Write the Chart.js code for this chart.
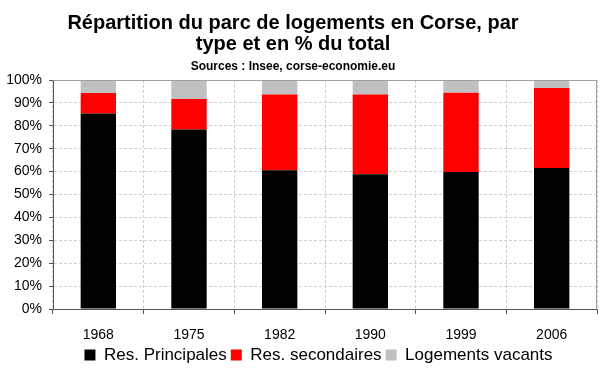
<!DOCTYPE html>
<html>
<head>
<meta charset="utf-8">
<script src="https://cdn.jsdelivr.net/npm/chart.js@4/dist/chart.umd.min.js"></script>
<style>
  html, body { margin: 0; padding: 0; background: #fff; }
  #c { display: block; }
</style>
</head>
<body>
<canvas id="c" width="600" height="372"></canvas>
<script>
const categories = ['1968', '1975', '1982', '1990', '1999', '2006'];
const resPrincipales = [85.4, 78.4, 60.6, 58.8, 59.8, 61.6];
const resSecondaires = [8.9, 13.3, 33.1, 34.9, 34.6, 34.9];
const logementsVacants = [5.7, 8.3, 6.3, 6.3, 5.6, 3.5];
const seriesNames = ['Res. Principales', 'Res. secondaires', 'Logements vacants'];
const yTickLabels = ['0%', '10%', '20%', '30%', '40%', '50%', '60%', '70%', '80%', '90%', '100%'];
const titleLines = ['Répartition du parc de logements en Corse, par', 'type et en % du total'];
const sourceText = 'Sources : Insee, corse-economie.eu';

const FONT = '"Liberation Sans", Arial, sans-serif';
Chart.defaults.font.family = FONT;
Chart.defaults.color = '#000';

const titlePlugin = {
  id: 'customTitle',
  afterDraw(chart) {
    const ctx = chart.ctx;
    ctx.save();
    ctx.fillStyle = '#000';
    ctx.textAlign = 'center';
    ctx.textBaseline = 'alphabetic';
    ctx.font = 'bold 20px ' + FONT;
    ctx.fillText(titleLines[0], 293, 28.5);
    ctx.fillText(titleLines[1], 293, 49.5);
    ctx.font = 'bold 12px ' + FONT;
    ctx.fillText(sourceText, 293, 69.5);
    ctx.restore();
  }
};

const legendShiftPlugin = {
  id: 'legendShift',
  afterLayout(chart) {
    if (chart.legend) { chart.legend.left = 40; }
  }
};

const framePlugin = {
  id: 'frame',
  afterDatasetsDraw(chart) {
    const a = chart.chartArea;
    const ctx = chart.ctx;
    ctx.save();
    ctx.strokeStyle = '#a0a0a0';
    ctx.lineWidth = 1;
    ctx.beginPath();
    ctx.moveTo(Math.round(a.left), Math.round(a.top) + 0.5);
    ctx.lineTo(Math.round(a.right) - 0.5, Math.round(a.top) + 0.5);
    ctx.lineTo(Math.round(a.right) - 0.5, Math.round(a.bottom));
    ctx.stroke();
    ctx.restore();
  }
};

new Chart(document.getElementById('c'), {
  type: 'bar',
  data: {
    labels: categories,
    datasets: [
      { label: seriesNames[0], data: resPrincipales, backgroundColor: '#000000', borderWidth: 0 },
      { label: seriesNames[1], data: resSecondaires, backgroundColor: '#ff0000', borderWidth: 0 },
      { label: seriesNames[2], data: logementsVacants, backgroundColor: '#c0c0c0', borderWidth: 0 }
    ]
  },
  options: {
    responsive: false,
    animation: false,
    events: [],
    layout: { padding: { top: 80, left: 0, right: 3, bottom: 0 } },
    datasets: { bar: { barPercentage: 0.39, categoryPercentage: 1 } },
    plugins: {
      title: { display: false },
      tooltip: { enabled: false },
      legend: {
        display: true,
        position: 'bottom',
        align: 'center',
        maxHeight: 29.5,
        labels: {
          boxWidth: 11,
          boxHeight: 11,
          padding: 4,
          color: '#000',
          font: { size: 17, family: FONT }
        }
      }
    },
    scales: {
      x: {
        stacked: true,
        grid: {
          offset: true,
          color: '#d0d0d0',
          lineWidth: 1,
          tickLength: 5,
          tickColor: '#555',
          tickBorderDash: [],
          drawOnChartArea: true
        },
        border: { display: true, color: '#555', width: 1, dash: [3, 2] },
        ticks: { color: '#000', font: { size: 14, family: FONT }, padding: 13, maxRotation: 0 },
        afterFit(s) { s.height = 33.5; }
      },
      y: {
        stacked: true,
        min: 0,
        max: 100,
        grid: {
          color: '#d0d0d0',
          lineWidth: 1,
          tickLength: 4,
          tickColor: '#555',
          tickBorderDash: []
        },
        border: { display: true, color: '#555', width: 1, dash: [3, 2] },
        ticks: {
          stepSize: 10,
          color: '#000',
          padding: 7,
          font: { size: 14, family: FONT },
          callback: (v, i) => yTickLabels[i]
        },
        afterFit(s) { s.width = 53; }
      }
    }
  },
  plugins: [titlePlugin, legendShiftPlugin, framePlugin]
});
</script>
</body>
</html>
